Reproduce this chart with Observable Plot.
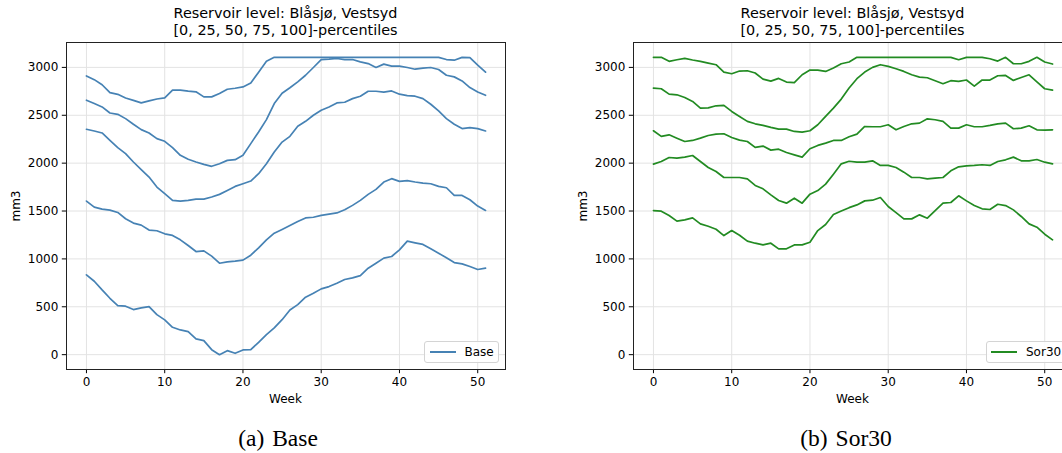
<!DOCTYPE html>
<html>
<head>
<meta charset="utf-8">
<script src="https://cdn.jsdelivr.net/npm/d3@7"></script>
<script src="https://cdn.jsdelivr.net/npm/@observablehq/plot@0.6"></script>
<style>
  html, body { margin: 0; padding: 0; background: #fff; }
  #root { position: relative; width: 1062px; height: 453px; overflow: hidden; background: #fff; font-family: "DejaVu Sans", sans-serif; color: #000; }
  .abs { position: absolute; white-space: nowrap; }
  .title { font-size: 14.4px; line-height: 16.3px; text-align: center; transform: translateX(-50%); }
  .xlabel { font-size: 12px; line-height: 12px; transform: translateX(-50%); }
  .ylabel { font-size: 12px; line-height: 12px; transform: translate(-50%, -50%) rotate(-90deg); }
  .caption { font-family: "Liberation Serif", "Times New Roman", serif; font-size: 23.5px; line-height: 23.5px; word-spacing: 2px; transform: translateX(-50%); }
  .legend { border: 1px solid #d4d4d4; border-radius: 3px; background: rgba(255,255,255,0.85); box-sizing: border-box; }
  .legend .sw { position: absolute; height: 0; border-top-width: 2px; border-top-style: solid; }
  .legend .lt { position: absolute; font-size: 12px; line-height: 12px; }
</style>
</head>
<body>
<div id="root"></div>
<script>
// ---- Data (reservoir level, mm3, by week 0..51) ----
const weeks = d3.range(52);
const percentiles = ["0", "25", "50", "75", "100"];
const xTicks = [0, 10, 20, 30, 40, 50];
const yTicks = [0, 500, 1000, 1500, 2000, 2500, 3000];

const baseP100 = [2911,2872,2819,2736,2719,2681,2656,2629,2650,2670,2681,2762,2762,2752,2745,2692,2692,2727,2772,2782,2796,2838,2950,3065,3105,
  3105,3105,3105,3105,3105,3105,3105,3105,3105,3105,3105,3105,3105,3105,3105,3105,3105,3105,3105,3105,3105,
  3082,3075,3105,3103,3023,2950];
const baseP75 = [2657,2622,2587,2524,2510,2465,2406,2350,2315,2256,2228,2162,2082,2040,2012,1987,1967,1994,2029,2036,2082,2204,2326,2455,2622,
  2730,2788,2849,2918,2999,3082,3086,3093,3082,3082,3058,3040,2999,3034,3013,3013,2999,2981,2992,2999,2978,2918,2901,2859,2789,2744,2709];
const baseP50 = [2354,2336,2315,2238,2162,2099,2012,1932,1855,1750,1681,1611,1604,1611,1625,1625,1646,1674,1715,1757,1785,1813,1890,1994,2116,
  2220,2280,2385,2437,2500,2552,2587,2629,2636,2674,2699,2751,2751,2741,2754,2720,2706,2699,2674,2615,2545,2465,2406,2361,2371,2361,2336];
const baseP25 = [1604,1541,1520,1510,1485,1419,1374,1353,1301,1294,1262,1245,1199,1140,1077,1084,1029,955,969,976,987,1039,1116,1199,1269,
  1308,1349,1390,1428,1435,1455,1468,1480,1513,1559,1611,1674,1726,1803,1838,1810,1817,1803,1792,1785,1757,1743,1663,1663,1618,1552,1506];
const baseP0 = [833,767,676,589,513,506,471,488,502,418,363,286,258,241,164,146,52,0,42,14,49,52,129,209,279,
  365,467,523,600,642,687,711,746,785,802,826,903,955,1008,1025,1095,1185,1168,1151,1105,1060,1011,962,948,920,889,903];

const sorP100 = [3105,3105,3063,3080,3094,3077,3063,3045,3028,2951,2934,2962,2965,2941,2878,2857,2885,2847,2840,2923,2972,2972,2958,2993,3038,3056,
  3105,3105,3105,3105,3105,3105,3105,3105,3105,3105,3105,3105,3105,
  3080,3105,3105,3105,3090,3066,3105,3038,3038,3063,3105,3056,3035];
const sorP75 = [2784,2777,2721,2714,2686,2645,2575,2578,2599,2603,2540,2488,2436,2411,2394,2373,2355,2355,2331,2324,2338,2401,2488,2575,2669,
  2784,2882,2951,3000,3028,3010,2986,2958,2923,2899,2892,2861,2829,2861,2854,2868,2805,2868,2868,2913,2916,2864,2895,2923,2850,2777,2763];
const sorP50 = [2338,2279,2296,2261,2226,2237,2261,2289,2303,2307,2268,2240,2226,2164,2178,2136,2146,2111,2087,2063,2150,2185,2209,2237,2237,
  2275,2303,2383,2380,2380,2401,2348,2383,2411,2418,2463,2453,2436,2366,2366,2401,2380,2380,2394,2411,2418,2359,2366,2390,2348,2345,2348];
const sorP25 = [1990,2017,2059,2052,2063,2080,2017,1955,1913,1850,1850,1850,1836,1767,1732,1669,1610,1582,1634,1582,1676,1714,1781,1885,1993,
  2020,2010,2010,2024,1976,1976,1955,1906,1850,1850,1836,1843,1850,1920,1962,1972,1976,1983,1976,2017,2035,2063,2024,2024,2038,2010,1993];
const sorP0 = [1505,1498,1453,1394,1408,1429,1366,1341,1310,1244,1296,1247,1185,1164,1146,1164,1105,1105,1146,1146,1174,1296,1359,1463,1500,
  1535,1564,1606,1613,1641,1547,1484,1418,1418,1460,1425,1505,1582,1589,1659,1606,1557,1523,1516,1571,1557,1512,1443,1366,1331,1258,1199];

const titleLines = ["Reservoir level: Blåsjø, Vestsyd", "[0, 25, 50, 75, 100]-percentiles"];

function toRows(seriesList) {
  const rows = [];
  seriesList.forEach((vals, i) => {
    vals.forEach((v, j) => rows.push({week: weeks[j], value: v, pct: percentiles[i]}));
  });
  return rows;
}

const baseRows = toRows([baseP0, baseP25, baseP50, baseP75, baseP100]);
const sorRows = toRows([sorP0, sorP25, sorP50, sorP75, sorP100]);

const root = document.getElementById("root");

function addDiv(cls, text, left, top) {
  const d = document.createElement("div");
  d.className = "abs " + cls;
  d.style.left = left + "px";
  d.style.top = top + "px";
  d.textContent = text;
  root.appendChild(d);
  return d;
}

function panel(opts) {
  const {rows, color, left, width, marginLeft, marginRight, name, caption, legendLeft} = opts;
  const height = 410, marginTop = 42, marginBottom = 41;
  const chart = Plot.plot({
    width, height, marginLeft, marginRight, marginTop, marginBottom,
    x: {domain: [-2.55, 53.55]},
    y: {domain: [-155, 3260]},
    style: {fontFamily: "DejaVu Sans, sans-serif", fontSize: "12px", color: "#000", background: "transparent", overflow: "visible", maxWidth: "none"},
    marks: [
      Plot.gridX(xTicks, {stroke: "#e3e3e3", strokeOpacity: 1, strokeWidth: 1}),
      Plot.gridY(yTicks, {stroke: "#e3e3e3", strokeOpacity: 1, strokeWidth: 1}),
      Plot.line(rows, {x: "week", y: "value", z: "pct", stroke: color, strokeWidth: 1.7}),
      Plot.axisX(xTicks, {tickSize: 4.2, tickPadding: 4, label: null, stroke: "#000", tickFormat: d => String(d)}),
      Plot.axisY(yTicks, {tickSize: 4.2, tickPadding: 4, label: null, stroke: "#000", tickFormat: d => String(d)}),
      Plot.frame({stroke: "#222", strokeWidth: 1})
    ]
  });
  const wrap = document.createElement("div");
  wrap.className = "abs";
  wrap.style.left = left + "px";
  wrap.style.top = "0px";
  wrap.style.width = width + "px";
  wrap.appendChild(chart);
  root.appendChild(wrap);

  const fx0 = left + marginLeft, fx1 = left + width - marginRight;
  const cx = (fx0 + fx1) / 2;
  const t = addDiv("title", "", cx, 5.3);
  t.innerHTML = titleLines.join("<br>");
  addDiv("xlabel", "Week", cx, 392.5);
  addDiv("ylabel", "mm3", left + marginLeft - 50, 205.5);
  addDiv("caption", caption, opts.captionX, 427);

  // legend box
  const lg = document.createElement("div");
  lg.className = "abs legend";
  lg.style.left = legendLeft + "px";
  lg.style.top = "340.5px";
  lg.style.width = opts.legendWidth + "px";
  lg.style.height = "22.5px";
  const sw = document.createElement("div");
  sw.className = "sw";
  sw.style.left = "4.5px"; sw.style.top = "9.5px"; sw.style.width = "26px";
  sw.style.borderTopColor = color;
  lg.appendChild(sw);
  const lt = document.createElement("div");
  lt.className = "lt";
  lt.style.left = "39.5px"; lt.style.top = "4.5px";
  lt.textContent = name;
  lg.appendChild(lt);
  root.appendChild(lg);
}

panel({rows: baseRows, color: "#4682b4", left: 0, width: 531, marginLeft: 66, marginRight: 26,
  name: "Base", caption: "(a) Base", captionX: 278, legendLeft: 424, legendWidth: 74.5});
panel({rows: sorRows, color: "#228b22", left: 531, width: 560, marginLeft: 102, marginRight: 19,
  name: "Sor30", caption: "(b) Sor30", captionX: 846, legendLeft: 985.5, legendWidth: 82});
</script>
</body>
</html>
